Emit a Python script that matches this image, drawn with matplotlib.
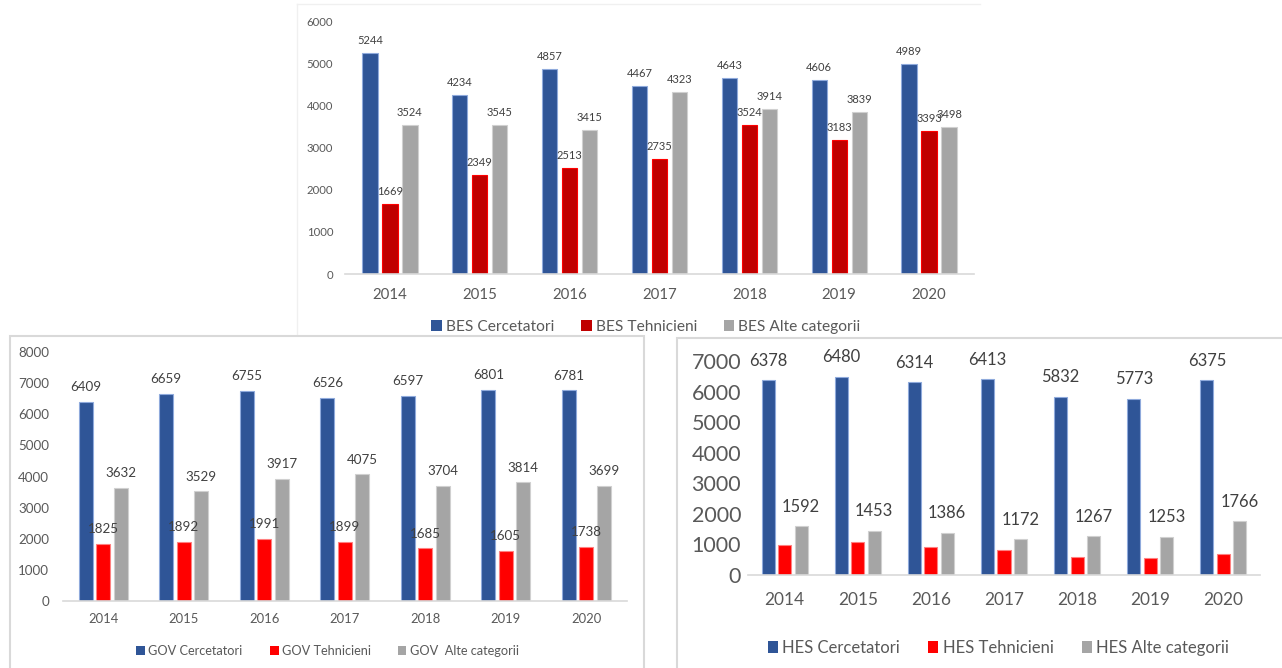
import matplotlib
matplotlib.use('Agg')
import matplotlib.pyplot as plt
import numpy as np
from matplotlib.patches import Rectangle, Patch
from matplotlib.lines import Line2D

plt.rcParams['font.family'] = ['Lato', 'DejaVu Sans']

years = ['2014', '2015', '2016', '2017', '2018', '2019', '2020']

bes_cercetatori = [5244, 4234, 4857, 4467, 4643, 4606, 4989]
bes_tehnicieni = [1669, 2349, 2513, 2735, 3524, 3183, 3393]
bes_alte = [3524, 3545, 3415, 4323, 3914, 3839, 3498]

gov_cercetatori = [6409, 6659, 6755, 6526, 6597, 6801, 6781]
gov_tehnicieni = [1825, 1892, 1991, 1899, 1685, 1605, 1738]
gov_alte = [3632, 3529, 3917, 4075, 3704, 3814, 3699]

hes_cercetatori = [6378, 6480, 6314, 6413, 5832, 5773, 6375]
# no labels on these in the source
hes_tehnicieni = [980, 1066, 912, 813, 593, 560, 703]
hes_alte = [1592, 1453, 1386, 1172, 1267, 1253, 1766]

bes_names = ['BES Cercetatori', 'BES Tehnicieni', 'BES Alte categorii']
gov_names = ['GOV Cercetatori', 'GOV Tehnicieni', 'GOV  Alte categorii']
hes_names = ['HES Cercetatori', 'HES Tehnicieni', 'HES Alte categorii']

BLUE = '#2F5597'
BLUE_EDGE = '#8FAADC'
DARKRED = '#C00000'
RED = '#FF0000'
GRAY = '#A5A5A5'
GRAY_EDGE = '#D0D0D0'
TXT = '#404040'
AX = '#D9D9D9'


def draw_panel(ax, series, colors, edges, show_labels, ymax, ystep,
               tick_fs, year_fs, lab_fs, lab_off, ypad, xpad, width, step):
    x = np.arange(len(years))
    for i, vals in enumerate(series):
        pos = x + (i - 1) * step
        bars = ax.bar(pos, vals, width, color=colors[i], edgecolor=edges[i], linewidth=0.8)
        if show_labels[i]:
            for b, v in zip(bars, vals):
                ax.annotate(str(v), (b.get_x() + b.get_width() / 2, v),
                            xytext=(0, lab_off), textcoords='offset points',
                            ha='center', va='center', fontsize=lab_fs, color=TXT)
    ax.set_xlim(-0.5, len(years) - 0.5)
    ax.set_ylim(0, ymax)
    ax.set_yticks(np.arange(0, ymax + 1, ystep))
    ax.set_xticks(x)
    ax.set_xticklabels(years)
    ax.tick_params(axis='y', length=0, labelsize=tick_fs, labelcolor='#595959', pad=ypad)
    ax.tick_params(axis='x', length=0, labelsize=year_fs, labelcolor='#595959', pad=xpad)
    for s in ['top', 'right', 'left']:
        ax.spines[s].set_visible(False)
    ax.spines['bottom'].set_color(AX)
    ax.spines['bottom'].set_linewidth(1.2)
    ax.set_facecolor('none')


fig = plt.figure(figsize=(12.82, 6.68), dpi=100)
W, H = 1282.0, 668.0


def fx(px):
    return px / W


def fy(py):
    return 1 - py / H


# panel frames, kept behind the axes
fig.add_artist(Rectangle((fx(10), -0.02), fx(644 - 10), fy(336) + 0.02,
                         transform=fig.transFigure, facecolor='white', edgecolor=AX,
                         lw=1.5, zorder=-5))
fig.add_artist(Rectangle((fx(677), -0.02), 0.5, fy(338) + 0.02,
                         transform=fig.transFigure, facecolor='white', edgecolor=AX,
                         lw=1.5, zorder=-5))
fig.add_artist(Line2D([fx(297), fx(297)], [fy(4), fy(336)], transform=fig.transFigure,
                      color='#F0F0F0', lw=1, zorder=-6))
fig.add_artist(Line2D([fx(297), fx(980)], [fy(4), fy(4)], transform=fig.transFigure,
                      color='#F0F0F0', lw=1, zorder=-6))

# top chart - BES
ax1 = fig.add_axes([fx(345), fy(274), fx(974 - 345), fy(21) - fy(274)])
draw_panel(ax1, [bes_cercetatori, bes_tehnicieni, bes_alte],
           [BLUE, DARKRED, GRAY], [BLUE_EDGE, RED, GRAY_EDGE], [True, True, True],
           6000, 1000, 8.2, 10.8, 8, 9, 8.5, 10, 0.17, 0.222)
h1 = [Patch(facecolor=c) for c in [BLUE, DARKRED, GRAY]]
fig.legend(h1, bes_names, loc='center', bbox_to_anchor=(fx(646), fy(327)), ncol=3,
           frameon=False, fontsize=11.2, handlelength=0.7, handleheight=0.7,
           handletextpad=0.25, columnspacing=1.7, labelcolor='#595959')

# bottom left - GOV
ax2 = fig.add_axes([fx(63), fy(600.7), fx(626.5 - 63), fy(352.3) - fy(600.7)])
draw_panel(ax2, [gov_cercetatori, gov_tehnicieni, gov_alte],
           [BLUE, RED, GRAY], [BLUE_EDGE, '#FF8080', GRAY_EDGE], [True, True, True],
           8000, 1000, 9.6, 9.4, 9.6, 10.5, 10, 8.5, 0.175, 0.217)
h2 = [Patch(facecolor=c) for c in [BLUE, RED, GRAY]]
fig.legend(h2, gov_names, loc='center', bbox_to_anchor=(fx(327.5), fy(651)), ncol=3,
           frameon=False, fontsize=9.2, handlelength=0.7, handleheight=0.7,
           handletextpad=0.25, columnspacing=2.1, labelcolor='#595959')

# bottom right - HES
ax3 = fig.add_axes([fx(748), fy(575), fx(1260 - 748), fy(361) - fy(575)])
draw_panel(ax3, [hes_cercetatori, hes_tehnicieni, hes_alte],
           [BLUE, RED, GRAY], [BLUE_EDGE, '#FF8080', GRAY_EDGE], [True, False, True],
           7000, 1000, 15.5, 12.4, 11.9, 14, 5, 12, 0.178, 0.225)
h3 = [Patch(facecolor=c) for c in [BLUE, RED, GRAY]]
fig.legend(h3, hes_names, loc='center', bbox_to_anchor=(fx(998.5), fy(647.7)), ncol=3,
           frameon=False, fontsize=12, handlelength=0.6, handleheight=0.7,
           handletextpad=0.25, columnspacing=1.7, labelcolor='#595959')

plt.savefig('out.png', dpi=100)
